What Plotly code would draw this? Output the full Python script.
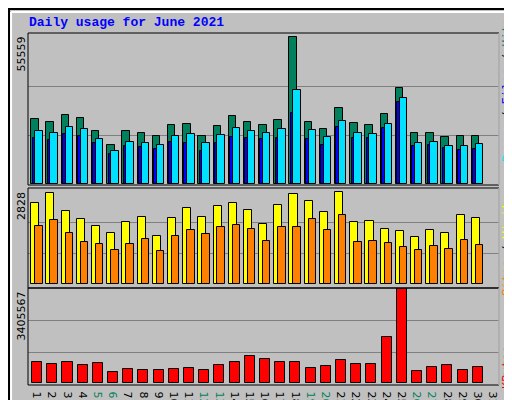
import plotly.graph_objects as go

days = list(range(1, 32))
data_days = list(range(1, 31))
weekend = [5, 6, 12, 13, 19, 20, 26, 27]

hits = [24637, 23506, 26146, 25014, 20112, 14833, 20112, 19358, 18227, 22375,
        22752, 18227, 21998, 25769, 23506, 22375, 24260, 55559, 23506, 20866,
        28785, 23129, 22375, 26523, 36327, 19358, 19358, 17849, 18227, 18227]
files = [20112, 19358, 21620, 20866, 17095, 12570, 15964, 15587, 14833, 18227,
         18981, 15587, 18604, 21243, 20112, 19358, 20866, 35573, 20489, 17849,
         23883, 19358, 18981, 22752, 32556, 15587, 15964, 14456, 14456, 15210]
pages = [17472, 16718, 18981, 18227, 15587, 11439, 14456, 14078, 13324, 15964,
         15587, 12570, 15587, 17849, 17472, 17095, 17472, 26900, 17095, 14833,
         21620, 17472, 17472, 21243, 31048, 14456, 14833, 13701, 12947, 13324]
visits = [2490, 2797, 2244, 1998, 1783, 1568, 1906, 2059, 1475, 2029,
          2336, 2059, 2398, 2490, 2275, 1844, 2428, 2766, 2551, 2213,
          2828, 1906, 1936, 1691, 1629, 1445, 1660, 1568, 2121, 2029]
sites = [1783, 1967, 1568, 1291, 1230, 1045, 1230, 1383, 1014, 1475,
         1660, 1537, 1752, 1814, 1691, 1322, 1752, 1752, 1998, 1660,
         2121, 1291, 1322, 1260, 1137, 1045, 1168, 1076, 1352, 1199]
kbytes = [785900, 711000, 785900, 673600, 748500, 411700, 523900, 486500, 486500, 523900,
          561400, 486500, 673600, 785900, 1010400, 898200, 785900, 785900, 561400, 636200,
          860800, 711000, 711000, 1684100, 3405567, 449100, 598800, 673600, 486500, 598800]

BG = "#C0C0C0"
line = dict(color="black", width=1)
fig = go.Figure()

def bars(y, color, off, w, ax):
    fig.add_trace(go.Bar(x=data_days, y=y, offset=off, width=w, marker_color=color,
                         marker_line=line, xaxis="x", yaxis=ax, showlegend=False))

bars(hits, "#00805C", -0.15, 0.49, "y")
bars(files, "#00E0FF", 0.11, 0.49, "y")
bars(pages, "#0000FF", -0.06, 0.17, "y")
bars(visits, "#FFFF00", -0.15, 0.53, "y2")
bars(sites, "#FF8000", 0.11, 0.49, "y2")
bars(kbytes, "#FF0000", -0.09, 0.66, "y3")

ticktext = [f'<span style="color:#00805C">{d}</span>' if d in weekend else str(d) for d in days]
yax = dict(showticklabels=False, showgrid=True, gridcolor="#808080", gridwidth=1,
           zeroline=False, anchor="x")
top_h, mid_h, bot_h = max(hits), max(visits), max(kbytes)
fig.update_layout(
    width=512, height=400, margin=dict(l=0, r=0, t=0, b=0),
    paper_bgcolor=BG, plot_bgcolor=BG, barmode="overlay", bargap=0,
    xaxis=dict(domain=[20/512, 491/512], range=[0.64, 31.64], anchor="y3",
               tickvals=[d + 0.35 for d in days], ticktext=ticktext, ticks="",
               showgrid=False, zeroline=False,
               tickfont=dict(family="DejaVu Sans", size=11, color="black")),
    yaxis=dict(domain=[0.5575, 0.9375], range=[-top_h * 0.005, top_h * 1.028],
               tickvals=[top_h / 3, top_h * 2 / 3], **yax),
    yaxis2=dict(domain=[0.3, 0.55], range=[-mid_h * 0.04, mid_h * 1.045],
                tickvals=[mid_h / 3, mid_h * 2 / 3], **yax),
    yaxis3=dict(domain=[0.0575, 0.3], range=[-bot_h * 0.017, bot_h * 1.015],
                tickvals=[bot_h / 3, bot_h * 2 / 3], **yax),
)

# panel frames
for y0, y1 in [(0.5575, 0.9375), (0.3, 0.55), (0.0575, 0.3)]:
    fig.add_shape(type="rect", xref="paper", yref="paper", x0=20/512, x1=491/512,
                  y0=y0, y1=y1, line=dict(color="black", width=1))
    fig.add_shape(type="line", xref="paper", yref="paper", x0=491/512, x1=491/512,
                  y0=y0, y1=y1, line=dict(color="white", width=1))
# outer bevel frame
fig.add_shape(type="rect", xref="paper", yref="paper", x0=0.002, x1=0.998, y0=0.0025, y1=0.9975,
              line=dict(color="black", width=2))
fig.add_shape(type="line", xref="paper", yref="paper", x0=0.006, x1=0.994, y0=0.99, y1=0.99,
              line=dict(color="white", width=2))
fig.add_shape(type="line", xref="paper", yref="paper", x0=0.006, x1=0.006, y0=0.01, y1=0.99,
              line=dict(color="white", width=2))
fig.add_shape(type="line", xref="paper", yref="paper", x0=0.006, x1=0.994, y0=0.01, y1=0.01,
              line=dict(color="#808080", width=3))
fig.add_shape(type="line", xref="paper", yref="paper", x0=0.994, x1=0.994, y0=0.01, y1=0.99,
              line=dict(color="#808080", width=3))

mono = "Courier New, Liberation Mono, monospace"
fig.add_annotation(text="<b>Daily usage for June 2021</b>", xref="paper", yref="paper",
                   x=19/512, y=1 - 15/400, xanchor="left", yanchor="middle", showarrow=False,
                   font=dict(family=mono, size=13, color="#0000FF"))
for txt, ytop in [(str(top_h), 27), (str(mid_h), 182), (str(bot_h), 282)]:
    fig.add_annotation(text=txt, xref="paper", yref="paper", x=13/512, y=1 - ytop/400,
                       xanchor="center", yanchor="top", textangle=-90, showarrow=False,
                       font=dict(family="DejaVu Sans", size=11, color="black"))
legends = [
    ('<span style="color:#00E0FF">Pages</span> / <span style="color:#0000FF">Files</span>'
     ' / <span style="color:#00805C">Hits</span>', 82),
    ('<span style="color:#FF8000">Sites</span> / <span style="color:#FFFF00">Visits</span>', 238),
    ('<span style="color:#FF0000">KBytes</span>', 360),
]
for txt, yc in legends:
    fig.add_annotation(text=txt, xref="paper", yref="paper",
                       x=500/512, y=1 - yc/400, xanchor="center", yanchor="middle",
                       textangle=-90, showarrow=False,
                       font=dict(family=mono, size=12, color="black"))

fig.write_html("out.html")
